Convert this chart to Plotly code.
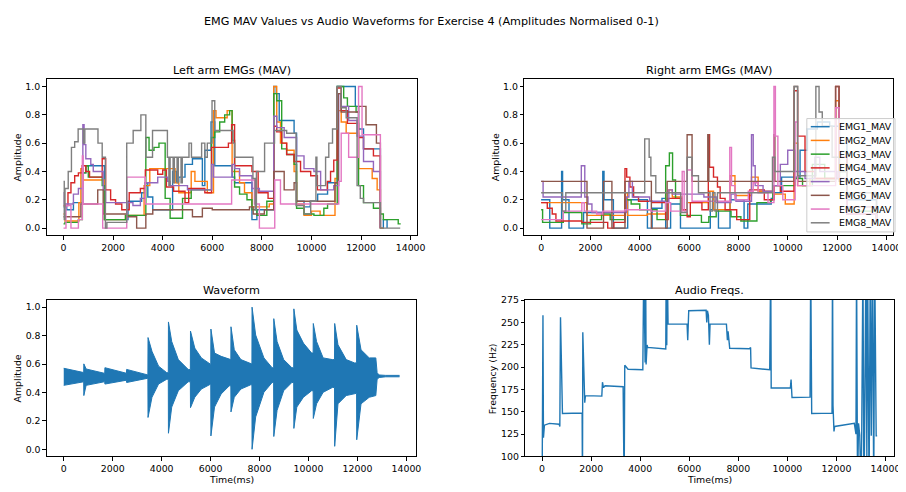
import plotly.graph_objects as go

# ---------------- data ----------------
SERIES_NAMES = ["EMG1_MAV", "EMG2_MAV", "EMG3_MAV", "EMG4_MAV",
                "EMG5_MAV", "EMG6_MAV", "EMG7_MAV", "EMG8_MAV"]

# Left arm, step series (time ms, normalised amplitude)
L_EMG1_T = [0,130,400,700,780,900,1600,1650,2600,3150,3300,3400,3600,4300,4400,4550,4650,4900,5200,5600,5700,5950,6100,6800,6900,7600,7800,8480,8580,8700,9300,9400,9700,9950,10250,10650,11040,11770,11900,12100,12780,12900,13050]
L_EMG1_V = [0.15,0.13,0.18,0.18,0.39,0.44,0.44,0.06,0.19,0.25,0.32,0.22,0.13,0.13,0.40,0.33,0.36,0.45,0.49,0.30,0.55,0.75,0.44,0.36,0.32,0.06,0.13,1.0,0.95,0.76,0.67,0.19,0.15,0.19,0.24,0.32,1.0,0.86,0.70,0.56,0.0,0.06,0.0]
L_EMG2_T = [0,60,620,700,800,1560,1650,2500,3250,3480,4200,4500,4650,5150,5300,5800,6050,6150,6600,6800,7100,7300,7600,8300,8480,8600,8750,9000,9300,9400,9700,10000,10350,10950,11050,11200,11400,11900,12100,12450,12650,12780,12900]
L_EMG2_V = [0.10,0.05,0.18,0.42,0.34,0.34,0.06,0.09,0.30,0.42,0.42,0.32,0.25,0.40,0.33,0.25,0.83,0.78,0.83,0.40,0.32,0.25,0.15,0.17,1.0,0.75,0.60,0.55,0.40,0.17,0.09,0.12,0.09,0.35,0.83,0.75,0.67,0.42,0.42,0.35,0.27,0.0,0.0]
L_EMG3_T = [0,60,600,760,900,1000,1560,1650,2500,3320,3450,3650,3850,4100,4300,4800,5150,5800,5970,6100,6300,6500,6700,6800,6900,7100,7400,7600,7800,8200,8480,8600,8800,9000,9300,9400,9700,10100,10500,10650,11040,11300,11450,11800,11900,12100,12500,12780,12900,13500,13600]
L_EMG3_V = [0.03,0.04,0.06,0.39,0.44,0.36,0.30,0.06,0.09,0.64,0.55,0.57,0.60,0.21,0.07,0.21,0.27,0.27,0.64,0.68,0.75,0.80,0.83,0.62,0.29,0.24,0.20,0.13,0.09,0.19,0.95,0.90,0.56,0.52,0.45,0.14,0.10,0.09,0.14,0.17,1.0,0.92,0.86,0.82,0.30,0.18,0.14,0.10,0.06,0.03,0.03]
L_EMG4_T = [0,180,300,450,600,750,900,1050,1560,1700,1900,2100,2350,2650,3100,3300,3800,4000,4150,4440,4900,5050,5700,5970,6650,6780,6900,7600,7850,8250,8480,8600,8800,9000,9300,9560,9970,10240,10640,10770,10900,11040,11200,11450,11900,12100,12500,12780]
L_EMG4_V = [0.16,0.25,0.32,0.37,0.39,0.44,0.40,0.36,0.49,0.27,0.20,0.17,0.13,0.25,0.28,0.41,0.38,0.41,0.29,0.26,0.18,0.28,0.25,0.57,0.60,0.73,0.44,0.40,0.25,0.21,0.72,0.68,0.60,0.52,0.47,0.40,0.37,0.27,0.33,0.40,0.48,0.99,0.83,0.74,0.64,0.56,0.51,0.0]
L_EMG5_T = [0,30,400,600,780,830,900,1100,1200,1600,1700,2800,3100,3300,3800,4200,4300,5000,5970,6050,6800,6900,7100,7600,7900,8480,8600,8900,9400,9700,10100,10370,10900,11100,11200,11500,11840,12100,12500,12780]
L_EMG5_V = [0.25,0.17,0.24,0.28,0.73,0.59,0.49,0.45,0.40,0.27,0.18,0.16,0.21,0.32,0.36,0.33,0.30,0.27,0.45,0.36,0.45,0.42,0.37,0.28,0.26,0.79,0.71,0.64,0.51,0.42,0.40,0.27,0.30,0.95,0.86,0.76,0.65,0.47,0.40,0.0]
L_EMG6_T = [0,700,1380,1600,2550,2950,3320,3600,5200,5600,6000,7500,7650,8100,8480,8900,9300,9400,10950,11080,11200,11900,12200,12620,12780]
L_EMG6_V = [0.08,0.17,0.27,0.10,0.08,0.0,0.10,0.13,0.08,0.14,0.13,0.15,0.10,0.13,0.40,0.27,0.32,0.19,0.32,0.95,0.82,0.86,0.73,0.60,0.0]
L_EMG7_T = [0,100,300,600,760,790,1580,2550,3300,4100,6780,7700,7900,8400,8520,8750,11100,11200,11500,11900,12040,12780]
L_EMG7_V = [0.0,0.16,0.0,0.06,0.51,0.17,0.0,0.36,0.17,0.17,0.34,0.17,0.0,0.0,0.34,0.17,0.33,0.67,0.50,1.0,0.66,0.0]
L_EMG8_T = [0,30,60,190,320,450,590,800,860,1390,1560,1690,1750,2550,2810,3120,3320,3590,4190,4250,4300,4420,4470,4580,4630,4740,4790,5060,5160,5570,5700,5800,5990,6100,6840,6900,7640,7730,7780,8110,8510,9000,9380,9700,9970,10180,10220,10570,10700,10850,11040,11200,11400,11840,11970,12100,12780,13580]
L_EMG8_V = [0.33,0.06,0.28,0.40,0.57,0.61,0.70,0.60,0.70,0.60,0.50,0.0,0.04,0.60,0.69,0.80,0.50,0.69,0.50,0.30,0.50,0.32,0.50,0.32,0.50,0.32,0.50,0.60,0.50,0.60,0.50,0.60,0.90,0.69,0.60,0.50,0.35,0.13,0.40,0.60,0.69,0.67,0.16,0.10,0.19,0.50,0.30,0.50,0.60,0.70,1.0,0.85,0.78,0.30,0.21,0.18,0.0,0.0]

# Right arm
R_EMG1_T = [0,200,350,830,870,1130,1720,2500,2550,2930,3510,4310,4500,4900,5050,5250,5650,6860,7190,7660,8230,8380,9330,9400,9750,10500,10800,11200,11700,12100,12400,13600]
R_EMG1_V = [0.20,0.20,0.0,0.40,0.20,0.0,0.11,0.40,0.20,0.0,0.20,0.0,0.14,0.21,0.0,0.17,0.0,0.13,0.0,0.20,0.0,0.17,0.21,0.25,0.36,0.55,0.70,0.75,0.72,0.60,0.20,0.05]
R_EMG2_T = [0,1860,3400,3500,4300,5050,5180,5320,5720,5920,6790,6990,7660,7860,8530,8800,9400,9900,10260,10400,10900,11940,12080,12400,13600]
R_EMG2_V = [0.18,0.09,0.25,0.09,0.10,0.25,0.27,0.22,0.13,0.18,0.26,0.13,0.37,0.23,0.36,0.26,0.24,0.17,0.60,0.30,0.35,0.90,0.45,0.15,0.05]
R_EMG3_T = [0,60,900,1650,2000,2450,2800,3400,3650,4000,4700,5050,5200,5330,5450,5650,6500,6800,7100,7700,8100,8750,9300,9400,10300,10600,11000,11500,12100,12400,13600]
R_EMG3_V = [0.13,0.04,0.11,0.03,0.06,0.10,0.06,0.20,0.17,0.13,0.06,0.44,0.53,0.34,0.21,0.09,0.04,0.08,0.12,0.08,0.05,0.18,0.20,0.30,0.35,0.30,0.45,0.35,0.40,0.12,0.05]
R_EMG4_T = [0,250,450,600,1650,2700,2950,3400,3470,3600,3750,3950,4500,5050,5150,5720,5920,6050,6520,6780,6830,6990,7150,7260,7460,7930,8460,9050,9450,9700,10260,10400,10700,11100,11940,12080,12400,13600]
R_EMG4_V = [0.18,0.14,0.10,0.05,0.04,0.0,0.04,0.42,0.36,0.29,0.22,0.19,0.18,0.06,0.21,0.13,0.08,0.18,0.13,0.66,0.43,0.36,0.29,0.21,0.13,0.06,0.27,0.20,0.30,0.26,0.97,0.65,0.40,0.35,1.0,0.50,0.10,0.05]
R_EMG5_T = [0,80,1630,1770,1900,2060,3460,3560,3700,4400,5180,5320,6600,7100,7700,7900,8530,8600,8680,9000,9400,9700,10000,10300,10700,11100,11300,12000,12400,13600]
R_EMG5_V = [0.33,0.22,0.44,0.22,0.17,0.11,0.22,0.33,0.22,0.19,0.27,0.24,0.22,0.18,0.24,0.19,0.66,0.44,0.30,0.26,0.30,0.45,0.55,0.40,0.35,0.50,0.40,0.35,0.15,0.05]
R_EMG6_T = [0,1860,2530,2870,3400,4470,5110,5920,6120,6760,6800,9440,9480,10260,10400,11940,12080,12400,13600]
R_EMG6_V = [0.33,0.0,0.33,0.0,0.33,0.0,0.33,0.66,0.33,0.66,0.33,0.66,0.33,1.0,0.33,1.0,0.33,0.10,0.05]
R_EMG7_T = [0,600,900,1650,1750,2250,2500,3400,4450,5050,5250,5720,5800,5920,6120,7650,7720,7860,8400,8600,8800,9200,9440,9500,9600,9800,10300,10400,11940,12080,12400,13600]
R_EMG7_V = [0.06,0.06,0.12,0.18,0.12,0.10,0.12,0.13,0.12,0.18,0.12,0.40,0.12,0.41,0.19,0.57,0.30,0.20,0.26,0.32,0.25,0.18,1.0,0.65,0.30,0.20,0.75,0.30,0.85,0.35,0.10,0.05]
R_EMG8_T = [0,860,1000,3400,4200,4380,4450,4650,5660,5920,6120,6380,6850,6950,7050,7150,7250,8400,9380,9480,10260,10400,11140,11270,11400,11800,12100,12400,13600]
R_EMG8_V = [0.25,0.12,0.25,0.25,0.63,0.50,0.37,0.25,0.11,0.50,0.37,0.25,0.12,0.25,0.12,0.25,0.25,0.25,0.50,0.40,1.0,0.37,1.0,0.82,0.72,0.50,0.40,0.25,0.10]

# Waveform envelope (time ms, upper and lower normalised amplitude)
WAVE_T = [0,780,815,821,915,1655,1675,1682,2529,2562,2569,3403,3438,3444,3605,3874,4210,4272,4278,4412,4681,5085,5173,5179,5354,5623,5959,6007,6013,6161,6430,6766,6827,6833,6968,7237,7640,7688,7694,7842,8178,8514,8576,8582,8716,8985,9321,9396,9402,9523,9792,10128,10190,10196,10330,10599,10976,11064,11070,11205,11541,11877,11965,11971,12146,12482,12751,12805,12886,13155,13719]
WAVE_UPPER = [0.57,0.539,0.54,0.601,0.565,0.535,0.535,0.574,0.535,0.535,0.562,0.523,0.523,0.786,0.689,0.585,0.539,0.539,0.896,0.758,0.631,0.562,0.56,0.832,0.712,0.643,0.597,0.597,0.846,0.677,0.654,0.631,0.631,0.862,0.700,0.631,0.601,0.60,1.0,0.804,0.643,0.574,0.574,0.919,0.758,0.631,0.574,0.574,0.988,0.839,0.747,0.677,0.677,0.885,0.758,0.643,0.631,0.631,0.885,0.735,0.631,0.608,0.608,0.873,0.700,0.643,0.643,0.539,0.523,0.52,0.52]
WAVE_LOWER = [0.45,0.475,0.475,0.378,0.45,0.475,0.475,0.459,0.486,0.486,0.47,0.50,0.50,0.224,0.366,0.459,0.493,0.493,0.113,0.297,0.412,0.475,0.475,0.293,0.366,0.424,0.459,0.459,0.094,0.297,0.389,0.447,0.447,0.263,0.366,0.424,0.454,0.454,0.0,0.228,0.401,0.470,0.470,0.090,0.274,0.412,0.470,0.47,0.147,0.297,0.366,0.412,0.412,0.217,0.320,0.401,0.435,0.435,0.021,0.320,0.378,0.394,0.394,0.067,0.320,0.366,0.378,0.493,0.505,0.51,0.51]

# Audio frequency track (time ms, Hz)
FREQ_T = [0,10,35,55,95,300,500,696,723,750,830,1632,1646,1659,1739,1766,2434,2461,2501,2568,3304,3344,3370,3437,3504,4106,4146,4200,4220,4240,4280,4306,5042,5060,5082,5100,5135,5911,5937,5978,6686,6713,6740,6780,6820,6847,7515,7555,7582,7649,8451,8500,8518,9280,9320,9340,10122,10150,10189,10925,10951,10991,11820,11840,11860,11900,11927,12729,12796,12820,12860,12900,12950,13000,13030,13080,13120,13150,13200,13240,13270,13330,13380,13420,13470,13520,13560,13620,13660]
FREQ_HZ = [60,239,258,121,135,137,136.5,136,133.5,255.7,148,148.5,60,239,160,168,167.5,183,177,179,178,60,202,200,197.5,197,320,205,320,203,224.7,222,220.3,320,224.5,320,248,248,230,263,263.5,250,263,258,225,248,248,230,240,221,220.5,222,199,197,320,176.5,176.5,186,166,166.4,320,148,148.5,320,157,128,133.5,137,125,320,60,137,124,60,122,320,60,128,320,100,320,60,320,123,320,60,320,123,123]

X_TICKS = [0, 2000, 4000, 6000, 8000, 10000, 12000, 14000]
X_TICK_TEXT = ["0", "2000", "4000", "6000", "8000", "10000", "12000", "14000"]
AMP_TICKS = [0.0, 0.2, 0.4, 0.6, 0.8, 1.0]
FREQ_TICKS = [100, 125, 150, 175, 200, 225, 250, 275]

COLORS = ["#1f77b4", "#ff7f0e", "#2ca02c", "#d62728",
          "#9467bd", "#8c564b", "#e377c2", "#7f7f7f"]

LEFT = [(L_EMG1_T, L_EMG1_V), (L_EMG2_T, L_EMG2_V), (L_EMG3_T, L_EMG3_V), (L_EMG4_T, L_EMG4_V),
        (L_EMG5_T, L_EMG5_V), (L_EMG6_T, L_EMG6_V), (L_EMG7_T, L_EMG7_V), (L_EMG8_T, L_EMG8_V)]
RIGHT = [(R_EMG1_T, R_EMG1_V), (R_EMG2_T, R_EMG2_V), (R_EMG3_T, R_EMG3_V), (R_EMG4_T, R_EMG4_V),
         (R_EMG5_T, R_EMG5_V), (R_EMG6_T, R_EMG6_V), (R_EMG7_T, R_EMG7_V), (R_EMG8_T, R_EMG8_V)]

# ---------------- figure ----------------
OFF = 8                      # default page margin of the HTML body
W, H = 906 - OFF, 492 - OFF  # figure size so it fills the window
FONT = "DejaVu Sans"
TICK_SIZE = 9.4
TITLE_SIZE = 11.2
fig = go.Figure()

for i, (t, v) in enumerate(LEFT):
    fig.add_trace(go.Scatter(x=t, y=v, mode="lines", line=dict(color=COLORS[i], width=1.4, shape="hv"),
                             name=SERIES_NAMES[i], showlegend=False, xaxis="x", yaxis="y"))
for i, (t, v) in enumerate(RIGHT):
    fig.add_trace(go.Scatter(x=t, y=v, mode="lines", line=dict(color=COLORS[i], width=1.4, shape="hv"),
                             name=SERIES_NAMES[i], showlegend=False, xaxis="x2", yaxis="y2"))

fig.add_trace(go.Scatter(x=WAVE_T, y=WAVE_UPPER, mode="lines", line=dict(color=COLORS[0], width=1),
                         showlegend=False, xaxis="x3", yaxis="y3"))
fig.add_trace(go.Scatter(x=WAVE_T, y=WAVE_LOWER, mode="lines", line=dict(color=COLORS[0], width=1),
                         fill="tonexty", fillcolor=COLORS[0], showlegend=False, xaxis="x3", yaxis="y3"))

fig.add_trace(go.Scatter(x=FREQ_T, y=FREQ_HZ, mode="lines", line=dict(color=COLORS[0], width=1.4),
                         showlegend=False, xaxis="x4", yaxis="y4"))


def px_x(p):
    return (p - OFF) / W


def px_y(p):
    return 1 - (p - OFF) / H


axis_common = dict(showline=True, linecolor="black", linewidth=1, mirror=True, ticks="outside",
                   ticklen=3.5, tickwidth=1, tickcolor="black", showgrid=False, zeroline=False,
                   tickfont=dict(size=TICK_SIZE, color="black", family=FONT))
x_common = dict(axis_common, tickmode="array", tickvals=X_TICKS, ticktext=X_TICK_TEXT)

top_dom = [px_y(234.3), px_y(75)]
bot_dom = [px_y(460.7), px_y(300.7)]

fig.update_layout(
    width=W, height=H, margin=dict(l=0, r=0, t=0, b=0),
    paper_bgcolor="white", plot_bgcolor="white",
    font=dict(family=FONT, size=TICK_SIZE, color="black"),
    showlegend=False,
    xaxis=dict(x_common, domain=[px_x(47), px_x(421)], range=[-680, 14270], anchor="y"),
    yaxis=dict(axis_common, domain=top_dom, range=[-0.05, 1.05], tickvals=AMP_TICKS, tickformat=".1f", anchor="x"),
    xaxis2=dict(x_common, domain=[px_x(529), min(1, px_x(901))], range=[-680, 14270], anchor="y2"),
    yaxis2=dict(axis_common, domain=top_dom, range=[-0.05, 1.05], tickvals=AMP_TICKS, tickformat=".1f", anchor="x2"),
    xaxis3=dict(x_common, domain=[px_x(47.3), px_x(420)], range=[-686, 14406], anchor="y3"),
    yaxis3=dict(axis_common, domain=bot_dom, range=[-0.05, 1.05], tickvals=AMP_TICKS, tickformat=".1f", anchor="x3"),
    xaxis4=dict(x_common, domain=[px_x(530), min(1, px_x(902))], range=[-683, 14348], anchor="y4"),
    yaxis4=dict(axis_common, domain=bot_dom, range=[100, 275], tickvals=FREQ_TICKS, anchor="x4"),
)

annotations = [
    ("EMG MAV Values vs Audio Waveforms for Exercise 4 (Amplitudes Normalised 0-1)", 435, 16, TITLE_SIZE, 0),
    ("Left arm EMGs (MAV)", 234, 66, TITLE_SIZE, 0),
    ("Right arm EMGs (MAV)", 715, 66, TITLE_SIZE, 0),
    ("Waveform", 234, 291, TITLE_SIZE, 0),
    ("Audio Freqs.", 716, 291, TITLE_SIZE, 0),
    ("Amplitude", 18, 155, TICK_SIZE, -90),
    ("Amplitude", 500, 155, TICK_SIZE, -90),
    ("Amplitude", 18, 381, TICK_SIZE, -90),
    ("Frequency (Hz)", 497, 381, TICK_SIZE, -90),
    ("Time(ms)", 234, 484, TICK_SIZE, 0),
    ("Time(ms)", 716, 484, TICK_SIZE, 0),
]
for text, x, y, size, ang in annotations:
    fig.add_annotation(text=text, x=px_x(x), y=px_y(y), xref="paper", yref="paper",
                       xanchor="center", yanchor="middle", showarrow=False, textangle=ang,
                       font=dict(size=size, family=FONT, color="black"))

# legend drawn in paper space (matplotlib style: compact rows)
LEG_X0, LEG_Y0, LEG_X1, LEG_Y1 = 814, 115, 903, 231
fig.add_shape(type="rect", xref="paper", yref="paper",
              x0=px_x(LEG_X0), x1=px_x(LEG_X1), y0=px_y(LEG_Y1), y1=px_y(LEG_Y0),
              line=dict(color="#cccccc", width=1), fillcolor="rgba(255,255,255,0.8)", layer="above")
for i, name in enumerate(SERIES_NAMES):
    yy = 123.3 + 14.05 * i
    fig.add_shape(type="line", xref="paper", yref="paper",
                  x0=px_x(818), x1=px_x(837), y0=px_y(yy), y1=px_y(yy),
                  line=dict(color=COLORS[i], width=1.5), layer="above")
    fig.add_annotation(text=name, x=px_x(844), y=px_y(yy), xref="paper", yref="paper",
                       xanchor="left", yanchor="middle", showarrow=False,
                       font=dict(size=TICK_SIZE, family=FONT, color="black"))

fig.write_html("out.html")
